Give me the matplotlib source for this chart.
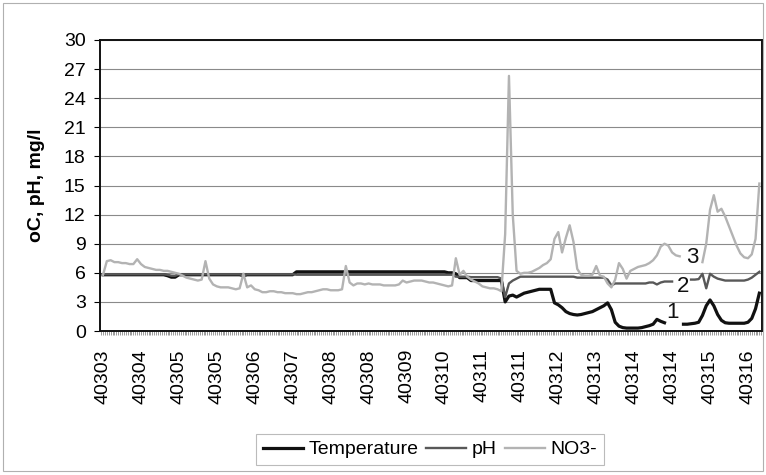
import numpy as np
import matplotlib
matplotlib.use("Agg")
import matplotlib.pyplot as plt
from matplotlib.patches import Rectangle
from matplotlib.ticker import MultipleLocator

plt.rcParams['font.family'] = ['Liberation Sans', 'DejaVu Sans']

nan = np.nan

tick_labels = ["40303", "40304", "40305", "40305", "40306", "40307", "40308", "40308",
               "40309", "40310", "40311", "40311", "40312", "40313", "40314", "40314",
               "40315", "40316"]

temperature = [
    5.8, 5.8, 5.8, 5.8, 5.8, 5.8, 5.8, 5.8, 5.8, 5.8,
    5.8, 5.8, 5.8, 5.8, 5.8, 5.8, 5.8, 5.7, 5.55, 5.55,
    5.8, 5.8, 5.8, 5.8, 5.8, 5.8, 5.8, 5.8, 5.8, 5.8,
    5.8, 5.8, 5.8, 5.8, 5.8, 5.8, 5.8, 5.7, 5.8, 5.8,
    5.8, 5.8, 5.8, 5.8, 5.8, 5.8, 5.8, 5.8, 5.8, 5.8,
    5.8, 6.1, 6.1, 6.1, 6.1, 6.1, 6.1, 6.1, 6.1, 6.1,
    6.1, 6.1, 6.1, 6.1, 6.1, 6.1, 6.1, 6.1, 6.1, 6.1,
    6.1, 6.1, 6.1, 6.1, 6.1, 6.1, 6.1, 6.1, 6.1, 6.1,
    6.1, 6.1, 6.1, 6.1, 6.1, 6.1, 6.1, 6.1, 6.1, 6.1,
    6.1, 6.0, 6.0, 5.9, 5.5, 5.5, 5.5, 5.2, 5.2, 5.2,
    5.2, 5.2, 5.2, 5.2, 5.2, 5.2, 3.0, 3.6, 3.7, 3.5,
    3.7, 3.9, 4.0, 4.1, 4.2, 4.3, 4.3, 4.3, 4.3, 2.9,
    2.7, 2.4, 2.0, 1.8, 1.7, 1.65, 1.7, 1.8, 1.9, 2.0,
    2.2, 2.4, 2.6, 2.9, 2.2, 0.9, 0.5, 0.35, 0.3, 0.3,
    0.3, 0.3, 0.35, 0.45, 0.55, 0.7, 1.2, 1.0, 0.85, nan,
    nan, nan, nan, 0.7, 0.7, 0.75, 0.8, 0.9, 1.6, 2.6,
    3.2, 2.6, 1.7, 1.1, 0.85, 0.8, 0.8, 0.8, 0.8, 0.8,
    0.9, 1.3, 2.3, 3.9,
]

ph = [
    5.85, 5.85, 5.85, 5.85, 5.85, 5.85, 5.85, 5.85, 5.85, 5.85,
    5.85, 5.85, 5.85, 5.85, 5.85, 5.85, 5.85, 5.8, 5.7, 5.7,
    5.85, 5.85, 5.85, 5.85, 5.85, 5.85, 5.85, 5.85, 5.85, 5.85,
    5.85, 5.85, 5.85, 5.85, 5.85, 5.85, 5.85, 5.75, 5.85, 5.85,
    5.85, 5.85, 5.85, 5.85, 5.85, 5.85, 5.85, 5.85, 5.85, 5.85,
    5.85, 5.8, 5.8, 5.8, 5.8, 5.8, 5.8, 5.8, 5.8, 5.8,
    5.8, 5.8, 5.8, 5.8, 5.8, 5.8, 5.8, 5.8, 5.8, 5.8,
    5.8, 5.8, 5.8, 5.8, 5.8, 5.8, 5.8, 5.8, 5.8, 5.8,
    5.8, 5.8, 5.8, 5.8, 5.8, 5.8, 5.8, 5.8, 5.8, 5.8,
    5.8, 5.8, 5.8, 5.6, 5.6, 5.6, 5.6, 5.55, 5.55, 5.55,
    5.55, 5.55, 5.55, 5.55, 5.55, 5.4, 3.5, 4.9, 5.2, 5.4,
    5.6, 5.6, 5.6, 5.6, 5.6, 5.6, 5.6, 5.6, 5.6, 5.6,
    5.6, 5.6, 5.6, 5.6, 5.6, 5.5, 5.5, 5.5, 5.5, 5.5,
    5.5, 5.5, 5.5, 5.3, 4.7, 4.9, 4.9, 4.9, 4.9, 4.9,
    4.9, 4.9, 4.9, 4.9, 5.0, 5.0, 4.8, 5.0, 5.1, 5.1,
    5.1, nan, nan, nan, nan, 5.3, 5.3, 5.35, 5.9, 4.4,
    5.9, 5.6, 5.4, 5.3, 5.2, 5.2, 5.2, 5.2, 5.2, 5.2,
    5.3, 5.5, 5.8, 6.1,
]

no3 = [
    5.8, 7.2, 7.3, 7.1, 7.1, 7.0, 7.0, 6.9, 6.9, 7.4,
    6.9, 6.6, 6.5, 6.4, 6.3, 6.3, 6.2, 6.2, 6.1, 6.0,
    5.9, 5.7, 5.5, 5.4, 5.3, 5.2, 5.3, 7.2, 5.4, 4.8,
    4.6, 4.5, 4.5, 4.5, 4.4, 4.3, 4.4, 5.9, 4.5, 4.7,
    4.3, 4.2, 4.0, 4.0, 4.1, 4.1, 4.0, 4.0, 3.9, 3.9,
    3.9, 3.8, 3.8, 3.9, 4.0, 4.0, 4.1, 4.2, 4.3, 4.3,
    4.2, 4.2, 4.2, 4.3, 6.7, 5.0, 4.7, 4.9, 4.9, 4.8,
    4.9, 4.8, 4.8, 4.8, 4.7, 4.7, 4.7, 4.7, 4.8, 5.2,
    5.0, 5.1, 5.2, 5.2, 5.2, 5.1, 5.0, 5.0, 4.9, 4.8,
    4.7, 4.6, 4.7, 7.5, 5.8, 6.2, 5.6, 5.3, 5.1, 4.9,
    4.6, 4.5, 4.4, 4.4, 4.3, 4.1, 10.0, 26.3, 12.0, 6.2,
    5.9, 6.0, 6.0, 6.1, 6.3, 6.5, 6.8, 7.0, 7.4, 9.5,
    10.2, 8.1, 9.6, 10.9, 9.2, 6.4, 5.8, 5.7, 5.7, 5.8,
    6.7, 5.7, 5.6, 4.9, 4.5, 5.3, 7.0, 6.4, 5.4, 6.2,
    6.4, 6.6, 6.7, 6.8, 7.0, 7.3, 7.8, 8.7, 9.0, 8.8,
    8.1, 7.8, 7.7, nan, nan, nan, nan, nan, 7.1, 9.0,
    12.5, 14.0, 12.3, 12.6, 11.8, 10.8, 9.8, 8.8, 8.0, 7.6,
    7.5, 7.9, 9.5, 15.2,
]

series_names = ["Temperature", "pH", "NO3-"]
series_labels = ["1", "2", "3"]
label_pos = [(150.2, 1.86), (152.9, 4.55), (155.2, 7.6)]

x = np.arange(len(no3))

fig = plt.figure(figsize=(7.66, 4.75), dpi=100)
ax = fig.add_axes([100 / 766, 1 - 331 / 475, 662 / 766, 291 / 475])

# outer chart border
fig.patches.append(Rectangle((3 / 766, 4 / 475), 760 / 766, 468 / 475,
                             transform=fig.transFigure, fill=False,
                             edgecolor='#b0b0b0', linewidth=0.8))

ax.plot(x, temperature, color='#111111', lw=2.3, label=series_names[0], zorder=3)
ax.plot(x, ph, color='#585858', lw=1.7, label=series_names[1], zorder=4)
ax.plot(x, no3, color='#b3b3b3', lw=1.7, label=series_names[2], zorder=5)

for t, (px, py) in zip(series_labels, label_pos):
    ax.text(px, py, t, fontsize=16, ha='center', va='center', color='#111111', zorder=6)

ax.set_ylim(0, 30)
ax.set_yticks(np.arange(0, 31, 3))
ax.set_xlim(-0.8, 173.7)
ax.set_xticks(np.arange(0, 171, 10))
ax.set_xticklabels(tick_labels, rotation=90)
ax.xaxis.set_minor_locator(MultipleLocator(0.5))

ax.grid(axis='y', color='#8a8a8a', lw=0.8)
ax.set_axisbelow(True)

ax.tick_params(axis='y', labelsize=14, length=4.3, width=0.8, pad=6, direction='out')
ax.tick_params(axis='x', which='major', labelsize=14, length=3, width=0.7,
               color='#999999', pad=10)
ax.tick_params(axis='x', which='minor', length=3, width=0.7, color='#999999')

for s in ax.spines.values():
    s.set_color('#111111')
    s.set_linewidth(1.4)

ax.set_ylabel("oC, pH, mg/l", fontsize=14, fontweight='bold')
ax.yaxis.set_label_coords(-0.083, 0.5)

leg = fig.legend(loc='center', bbox_to_anchor=(430 / 766, 1 - 449.5 / 475), ncol=3,
                 fontsize=14, frameon=True, fancybox=False, handlelength=2.05,
                 handletextpad=0.3, columnspacing=0.4, borderpad=0.35)
leg.get_frame().set_edgecolor('#aaaaaa')
leg.get_frame().set_linewidth(0.8)

fig.savefig("out.png", dpi=100)
